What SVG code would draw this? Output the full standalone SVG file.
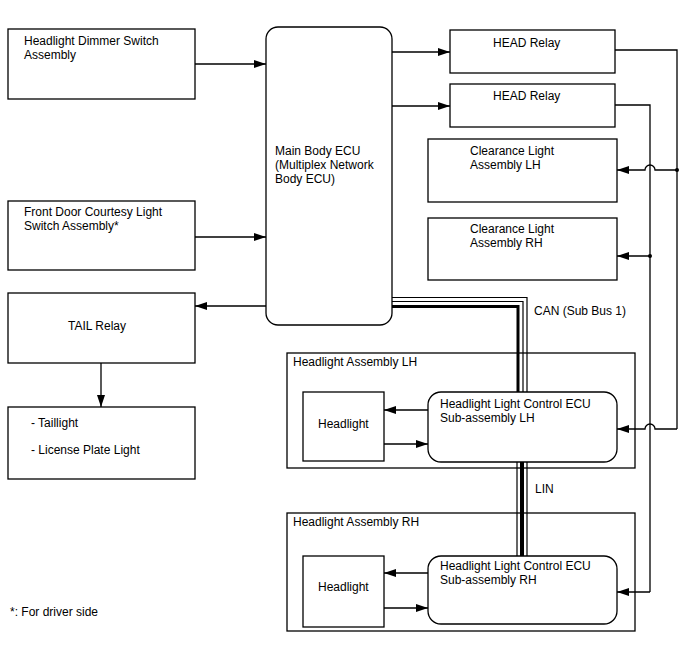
<svg xmlns="http://www.w3.org/2000/svg" width="688" height="658" viewBox="0 0 688 658">
<style>
.b{fill:#fff;stroke:#000;stroke-width:1.3}
.t{font-family:"Liberation Sans",Arial,sans-serif;font-size:12px;fill:#000}
.w{fill:none;stroke:#000;stroke-width:1.3}
.a{fill:none;stroke:#000;stroke-width:1.3;marker-end:url(#ah)}
</style>
<defs>
<marker id="ah" viewBox="0 0 12 8" refX="12" refY="4" markerWidth="12" markerHeight="8" markerUnits="userSpaceOnUse" orient="auto">
<path d="M0,0 L12,4 L0,8 z" fill="#000"/>
</marker>
</defs>
<rect width="688" height="658" fill="#fff"/>

<g id="dimmer"><rect class="b" x="8" y="29" width="187" height="70"/>
<text class="t" x="24" y="45">Headlight Dimmer Switch</text><text class="t" x="24" y="59">Assembly</text></g>

<g id="frontdoor"><rect class="b" x="8" y="201" width="187" height="69"/>
<text class="t" x="24" y="216">Front Door Courtesy Light</text><text class="t" x="24" y="230">Switch Assembly*</text></g>

<g id="tailrelay"><rect class="b" x="8" y="293" width="187" height="70"/>
<text class="t" x="68" y="330">TAIL Relay</text></g>

<g id="taillight"><rect class="b" x="8" y="407" width="187" height="72"/>
<text class="t" x="31" y="427">- Taillight</text><text class="t" x="31" y="454">- License Plate Light</text></g>

<g id="mainecu"><rect class="b" x="266" y="27" width="126" height="298" rx="12"/>
<text class="t" x="275" y="155">Main Body ECU</text><text class="t" x="275" y="169">(Multiplex Network</text><text class="t" x="275" y="183">Body ECU)</text></g>

<g id="headrelay1"><rect class="b" x="450" y="30" width="165" height="43"/>
<text class="t" x="493" y="47">HEAD Relay</text></g>

<g id="headrelay2"><rect class="b" x="450" y="84" width="165" height="43"/>
<text class="t" x="493" y="100">HEAD Relay</text></g>

<g id="clearlh"><rect class="b" x="428" y="139" width="189" height="63"/>
<text class="t" x="470" y="155">Clearance Light</text><text class="t" x="470" y="169">Assembly LH</text></g>

<g id="clearrh"><rect class="b" x="428" y="218" width="189" height="62"/>
<text class="t" x="470" y="233">Clearance Light</text><text class="t" x="470" y="247">Assembly RH</text></g>

<g id="assylh"><rect class="b" x="287" y="353" width="348" height="115"/>
<text class="t" x="293" y="366">Headlight Assembly LH</text></g>

<g id="assyrh"><rect class="b" x="287" y="513" width="348" height="118"/>
<text class="t" x="293" y="526">Headlight Assembly RH</text></g>

<g id="connectors">
<!-- CAN bus -->
<path d="M392,297.5 H527 V393" fill="none" stroke="#000" stroke-width="1.2"/>
<path d="M392,301.5 H523 V393" fill="none" stroke="#000" stroke-width="1.2"/>
<path d="M392,306.5 H518 V393" fill="none" stroke="#000" stroke-width="3"/>
<!-- LIN -->
<path d="M517,462 V556 M527,462 V556" fill="none" stroke="#000" stroke-width="1.2"/>
<path d="M522,462 V556" fill="none" stroke="#000" stroke-width="4"/>

<path class="a" d="M195,64 H266"/>
<path class="a" d="M195,237 H266"/>
<path class="a" d="M266,306 H195"/>
<path class="a" d="M101,363 V407"/>
<path class="a" d="M392,52 H450"/>
<path class="a" d="M392,106 H450"/>

<path class="w" d="M615,50 H677 V429"/>
<path class="w" d="M615,105 H650 V592"/>
<path class="a" d="M677,170 H655 A5,5 0 0 0 645,170 H617"/>
<path class="a" d="M650,256 H617"/>
<path class="a" d="M677,429 H655 A5,5 0 0 0 645,429 H617"/>
<path class="a" d="M650,592 H617"/>
<circle cx="677" cy="170" r="2"/>
<circle cx="650" cy="256" r="2"/>

<path class="a" d="M428,410 H384"/>
<path class="a" d="M384,444 H428"/>
<path class="a" d="M428,573 H384"/>
<path class="a" d="M384,608 H428"/>
</g>

<g id="headlightlh"><rect class="b" x="303" y="392" width="81" height="69"/>
<text class="t" x="318" y="428">Headlight</text></g>
<g id="ecuLH"><rect class="b" x="428" y="392" width="189" height="70" rx="13"/>
<text class="t" x="440" y="408">Headlight Light Control ECU</text><text class="t" x="440" y="422">Sub-assembly LH</text></g>

<g id="headlightrh"><rect class="b" x="303" y="556" width="81" height="71"/>
<text class="t" x="318" y="591">Headlight</text></g>
<g id="ecuRH"><rect class="b" x="428" y="556" width="189" height="68" rx="13"/>
<text class="t" x="440" y="570">Headlight Light Control ECU</text><text class="t" x="440" y="584">Sub-assembly RH</text></g>

<text class="t" x="534" y="315">CAN (Sub Bus 1)</text>
<text class="t" x="535" y="493">LIN</text>
<text class="t" x="10" y="616">*: For driver side</text>
</svg>
